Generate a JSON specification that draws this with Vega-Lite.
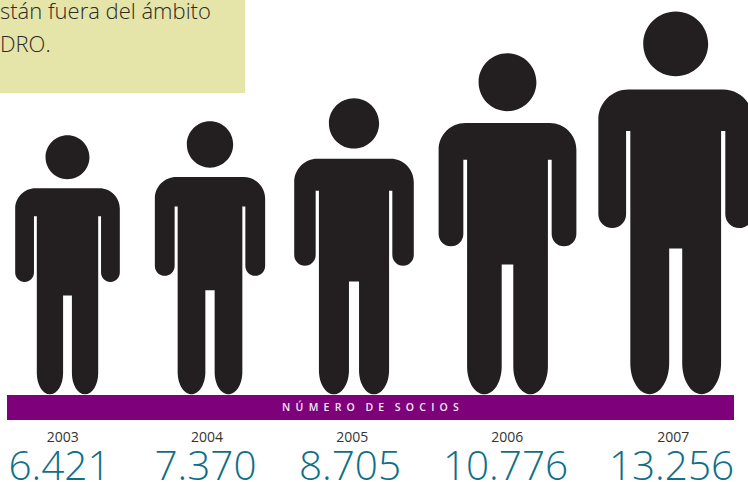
{
"$schema":"https://vega.github.io/schema/vega-lite/v6.json",
"width":748,"height":482,
"autosize":{"type":"fit","contains":"padding"},
"padding":0,
"background":"white",
"view":{"stroke":null},
"datasets":{
"socios":[
{"year":2003,"value":6421,"label":"6.421"},
{"year":2004,"value":7370,"label":"7.370"},
{"year":2005,"value":8705,"label":"8.705"},
{"year":2006,"value":10776,"label":"10.776"},
{"year":2007,"value":13256,"label":"13.256"}],
"band":[{"title":"N\u2002Ú\u2002M\u2002E\u2002R\u2002O\u2002\u2002D\u2002E\u2002\u2002S\u2002O\u2002C\u2002I\u2002O\u2002S"}],
"box":[{"box":"nota"}],
"lines":[{"line":1,"text":"stán fuera del ámbito"},{"line":2,"text":"DRO."}]
},
"layer":[
{"data":{"name":"box"},"mark":{"type":"rect","color":"#e5e4a9"},
"encoding":{
"x":{"field":"box","type":"nominal","axis":null,"scale":{"type":"band","range":[0,245],"paddingInner":0,"paddingOuter":0}},
"y":{"field":"box","type":"nominal","axis":null,"scale":{"type":"band","range":[0,93],"paddingInner":0,"paddingOuter":0}}}},
{"data":{"name":"lines"},"mark":{"type":"text","align":"left","baseline":"alphabetic","font":"Open Sans","fontWeight":300,"fontSize":22,"color":"#2b2a25"},
"encoding":{
"x":{"field":"line","type":"quantitative","axis":null,"scale":{"domain":[1,2],"range":[0,0],"zero":false,"nice":false}},
"y":{"field":"line","type":"quantitative","axis":null,"scale":{"domain":[1,2],"range":[19,52],"zero":false,"nice":false}},
"text":{"field":"text"}}},
{"data":{"name":"band"},"mark":{"type":"rect","color":"#7f007b"},
"encoding":{
"x":{"field":"title","type":"nominal","axis":null,"scale":{"type":"band","range":[7,734],"paddingInner":0,"paddingOuter":0}},
"y":{"field":"title","type":"nominal","axis":null,"scale":{"type":"band","range":[395,420],"paddingInner":0,"paddingOuter":0}}}},
{"data":{"name":"band"},"mark":{"type":"text","align":"center","baseline":"middle","font":"Open Sans","fontWeight":600,"fontSize":10.5,"color":"#f4eaf3"},
"encoding":{
"x":{"field":"title","type":"nominal","axis":null,"scale":{"type":"band","range":[7,734],"paddingInner":0,"paddingOuter":0}},
"y":{"field":"title","type":"nominal","axis":null,"scale":{"type":"band","range":[395,420],"paddingInner":0,"paddingOuter":0}},
"text":{"field":"title"}}},
{"data":{"name":"socios"},"mark":{"type":"point","filled":true,"opacity":1,"color":"#231f20","strokeWidth":0,
"shape":"M-0.1696 -1.83A0.1696 0.1696 0 1 1 0.1696 -1.83A0.1696 0.1696 0 1 1 -0.1696 -1.83ZM-0.247 -1.5915L0.247 -1.5915A0.157 0.157 0 0 1 0.404 -1.4345L0.404 -0.9405A0.0725 0.0725 0 0 1 0.259 -0.9405L0.259 -1.3755L0.237 -1.3755L0.237 -0.163A0.1015 0.163 0 0 1 0.034 -0.163L0.034 -0.762L-0.034 -0.762L-0.034 -0.163A0.1015 0.163 0 0 1 -0.237 -0.163L-0.237 -1.3755L-0.259 -1.3755L-0.259 -0.9405A0.0725 0.0725 0 0 1 -0.404 -0.9405L-0.404 -1.4345A0.157 0.157 0 0 1 -0.247 -1.5915Z"},
"encoding":{
"x":{"field":"year","type":"quantitative","axis":null,"scale":{"domain":[2003,2004,2005,2006,2007],"range":[67.5,210,354,507.5,675.7],"zero":false,"nice":false}},
"y":{"field":"year","type":"quantitative","axis":null,"scale":{"domain":[2003,2007],"range":[394.3,394.3],"zero":false,"nice":false}},
"size":{"field":"value","type":"quantitative","legend":null,"scale":{"domain":[6421,7370,8705,10776,13256],"range":[67081,74529,87616,116281,146689],"zero":false,"nice":false}}}},
{"data":{"name":"socios"},"mark":{"type":"text","align":"center","baseline":"alphabetic","font":"Open Sans","fontWeight":400,"fontSize":14,"color":"#333333"},
"encoding":{
"x":{"field":"year","type":"quantitative","axis":null,"scale":{"domain":[2003,2004,2005,2006,2007],"range":[62.7,207,352.3,507.3,673.3],"zero":false,"nice":false}},
"y":{"field":"year","type":"quantitative","axis":null,"scale":{"domain":[2003,2007],"range":[441.5,441.5],"zero":false,"nice":false}},
"text":{"field":"year","type":"nominal"}}},
{"data":{"name":"socios"},"mark":{"type":"text","align":"center","baseline":"alphabetic","font":"Open Sans","fontWeight":300,"fontSize":40.5,"color":"#0f6f88"},
"encoding":{
"x":{"field":"year","type":"quantitative","axis":null,"scale":{"domain":[2003,2004,2005,2006,2007],"range":[59.5,205.5,350,505.5,671.5],"zero":false,"nice":false}},
"y":{"field":"year","type":"quantitative","axis":null,"scale":{"domain":[2003,2007],"range":[479.5,479.5],"zero":false,"nice":false}},
"text":{"field":"label"}}}
],
"resolve":{"scale":{"x":"independent","y":"independent"}}
}
